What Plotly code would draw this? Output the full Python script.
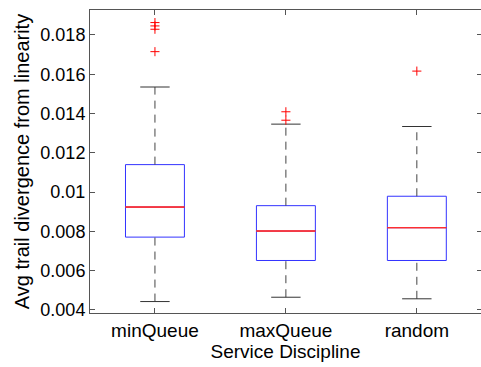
import plotly.graph_objects as go

categories = ["minQueue", "maxQueue", "random"]
positions = [1, 2, 3]
lower_whisker = [0.00443, 0.00465, 0.00457]
q1 = [0.00771, 0.00652, 0.00652]
median = [0.00924, 0.00802, 0.00819]
q3 = [0.0114, 0.00931, 0.00979]
upper_whisker = [0.01535, 0.01346, 0.01334]
outliers = {
    "minQueue": [0.01863, 0.01846, 0.01829, 0.01715],
    "maxQueue": [0.01409, 0.01366],
    "random": [0.01616],
}
y_ticks = [0.004, 0.006, 0.008, 0.01, 0.012, 0.014, 0.016, 0.018]
y_tick_text = ["0.004", "0.006", "0.008", "0.01", "0.012", "0.014", "0.016", "0.018"]

BOX_W = 0.45
CAP_SIZE = 21
FONT = "Liberation Sans, Arial, Helvetica, sans-serif"
Y_RANGE = [0.003847, 0.01927]

fig = go.Figure()

# whiskers (dashed)
wx, wy = [], []
for p, lo, a, b, hi in zip(positions, lower_whisker, q1, q3, upper_whisker):
    wx += [p, p, None, p, p, None]
    wy += [b, hi, None, lo, a, None]
fig.add_trace(go.Scatter(x=wx, y=wy, mode="lines",
                         line=dict(color="#444444", width=1, dash="8px,6px"),
                         hoverinfo="skip"))

# caps
fig.add_trace(go.Scatter(x=positions + positions, y=lower_whisker + upper_whisker,
                         mode="markers",
                         marker=dict(symbol="line-ew", size=CAP_SIZE,
                                     line=dict(color="#333333", width=1)),
                         hoverinfo="skip"))

# boxes (blue)
fig.add_trace(go.Box(x=positions, q1=q1, median=median, q3=q3,
                     lowerfence=q1, upperfence=q3, width=BOX_W,
                     line=dict(color="#3333ff", width=1),
                     fillcolor="rgba(0,0,0,0)", whiskerwidth=0,
                     boxpoints=False, hoverinfo="skip"))

# median lines (red), drawn over the box's own median
fig.add_trace(go.Box(x=positions, q1=median, median=median, q3=median,
                     lowerfence=median, upperfence=median, width=BOX_W,
                     line=dict(color="#ff3030", width=1),
                     fillcolor="rgba(0,0,0,0)", whiskerwidth=0,
                     boxpoints=False, hoverinfo="skip"))

# outliers
ox, oy = [], []
for p, c in zip(positions, categories):
    for v in outliers[c]:
        ox.append(p)
        oy.append(v)
fig.add_trace(go.Scatter(x=ox, y=oy, mode="markers",
                         marker=dict(symbol="cross-thin", size=6.5,
                                     line=dict(color="red", width=1)),
                         hoverinfo="skip"))

# invisible trace to carry right-side ticks
fig.add_trace(go.Scatter(x=[positions[0]], y=[median[0]], yaxis="y2", mode="markers",
                         marker=dict(opacity=0), hoverinfo="skip"))

fig.update_layout(
    width=481, height=367,
    margin=dict(l=90, r=0, t=10, b=54),
    paper_bgcolor="white", plot_bgcolor="white",
    showlegend=False,
    boxmode="overlay",
    font=dict(family=FONT, color="black"),
    yaxis2=dict(overlaying="y", side="right", range=Y_RANGE, tickvals=y_ticks,
                showticklabels=False, ticks="inside", ticklen=4, tickcolor="#555555",
                showline=False, showgrid=False, zeroline=False),
)
fig.update_xaxes(
    range=[0.504, 3.49], tickvals=positions, ticktext=categories,
    showline=True, linecolor="#555555", linewidth=1, mirror="ticks",
    ticks="inside", ticklen=5, tickcolor="#555555",
    showgrid=False, zeroline=False, tickfont=dict(size=19),
    title=dict(text="Service Discipline", font=dict(size=19), standoff=1),
)
fig.layout.yaxis.update(
    range=Y_RANGE, tickvals=y_ticks, ticktext=y_tick_text,
    showline=True, linecolor="#555555", linewidth=1, mirror=False,
    ticks="inside", ticklen=5, tickcolor="#555555",
    showgrid=False, zeroline=False, tickfont=dict(size=18),
    title=dict(text="Avg trail divergence from linearity", font=dict(size=20), standoff=5),
)

fig.write_html("out.html")
